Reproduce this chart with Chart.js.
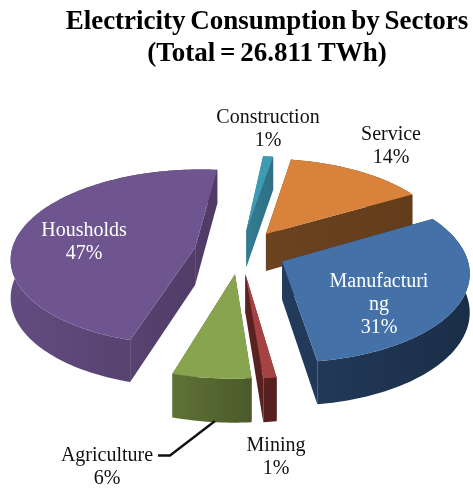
<!DOCTYPE html>
<html>
<head>
<meta charset="utf-8">
<style>
  html, body { margin: 0; padding: 0; background: #fff; }
  #wrap { width: 473px; height: 488px; }
  #sectorChart { filter: blur(0.4px); }
</style>
</head>
<body>
<div id="wrap"><canvas id="sectorChart" width="473" height="488"></canvas></div>
<script src="https://cdn.jsdelivr.net/npm/chart.js@4/dist/chart.umd.min.js"></script>
<script>
const sectors = ["Construction", "Service", "Manufacturing", "Mining", "Agriculture", "Housholds"];
const shares = [1, 14, 31, 1, 6, 47];
const titleLines = ["Electricity Consumption by Sectors", "(Total = 26.811 TWh)"];

const topColors = ["#3f9ab4", "#d9823b", "#4471a8", "#a44342", "#88a44e", "#6f5590"];
const sideLight = ["#347d93", "#6b431f", "#233b5c", "#5c2222", "#5f7236", "#634c80"];
const sideDark = ["#2f6f84", "#633c1b", "#1a2e47", "#561f1f", "#4a5a2b", "#4f3b65"];

// label text as wrapped in the picture, with where it sits
const labels = [
  { lines: ["Construction", "1%"], x: 268, y: 118, color: "#111111" },
  { lines: ["Service", "14%"], x: 391, y: 135, color: "#111111" },
  { lines: ["Manufacturi", "ng", "31%"], x: 379, y: 282, color: "#ffffff" },
  { lines: ["Mining", "1%"], x: 276, y: 446, color: "#111111" },
  { lines: ["Agriculture", "6%"], x: 107, y: 456, color: "#111111" },
  { lines: ["Housholds", "47%"], x: 84, y: 231, color: "#ffffff" },
];

// fake 3D view: the flat pie is tilted and gets bigger towards the viewer
const view = { x: 245, y: 266, shiftX: -5, shiftY: -30, tilt: 0.485, persp: 800, depth: 38.5 };

function project(dx, dy) {
  const w = (dy + view.shiftY) * view.tilt;
  const s = 1 / (1 - w / view.persp);
  return { x: view.x + (dx + view.shiftX) * s, y: view.y + w * s, s };
}

function sliceOutline(arc) {
  const off = arc.options.offset;
  const mid = (arc.startAngle + arc.endAngle) / 2;
  const ox = Math.cos(mid) * off;
  const oy = Math.sin(mid) * off;
  const pts = [project(ox, oy)];
  const steps = Math.max(4, Math.ceil((arc.endAngle - arc.startAngle) * 40));
  for (let i = 0; i <= steps; i++) {
    const a = arc.startAngle + (arc.endAngle - arc.startAngle) * i / steps;
    pts.push(project(ox + Math.cos(a) * arc.outerRadius, oy + Math.sin(a) * arc.outerRadius));
  }
  return pts;
}

// one wall: the run of outline points, and the same run pushed down by the depth
function fillWall(ctx, run) {
  ctx.beginPath();
  run.forEach((p, n) => (n ? ctx.lineTo(p.x, p.y) : ctx.moveTo(p.x, p.y)));
  run.slice().reverse().forEach((p) => ctx.lineTo(p.x, p.y + view.depth * p.s));
  ctx.closePath();
  ctx.fill();
}

const pie3d = {
  id: "pie3d",
  beforeDraw(chart) {
    chart.ctx.wordSpacing = "-2px"; // the title's word gaps are tight
  },
  beforeDatasetDraw(chart) {
    const ctx = chart.ctx;
    ctx.wordSpacing = "0px";
    const arcs = chart.getDatasetMeta(0).data;
    const order = arcs.map((arc, i) => ({ arc, i, pts: sliceOutline(arc) }));
    order.sort((a, b) => {
      const ya = Math.sin((a.arc.startAngle + a.arc.endAngle) / 2);
      const yb = Math.sin((b.arc.startAngle + b.arc.endAngle) / 2);
      return ya - yb;
    });
    order.forEach(({ i, pts }) => {
      const xs = pts.map((p) => p.x);
      const grad = ctx.createLinearGradient(Math.min(...xs), 0, Math.max(...xs), 0);
      grad.addColorStop(0, sideLight[i]);
      grad.addColorStop(1, sideDark[i]);
      ctx.fillStyle = grad;
      fillWall(ctx, pts.slice(1));
      fillWall(ctx, [pts[0], pts[1]]);
      fillWall(ctx, [pts[0], pts[pts.length - 1]]);
      ctx.fillStyle = topColors[i];
      ctx.beginPath();
      pts.forEach((p, n) => (n ? ctx.lineTo(p.x, p.y) : ctx.moveTo(p.x, p.y)));
      ctx.closePath();
      ctx.fill();
    });
    return false;
  },
  afterDraw(chart) {
    const ctx = chart.ctx;
    ctx.save();
    ctx.font = "20px 'Liberation Serif'";
    ctx.textAlign = "center";
    ctx.textBaseline = "middle";
    labels.forEach((l) => {
      ctx.fillStyle = l.color;
      l.lines.forEach((line, n) => ctx.fillText(line, l.x, l.y + n * 23));
    });
    // leader line of the Agriculture label
    ctx.strokeStyle = "#111";
    ctx.lineWidth = 2.4;
    ctx.beginPath();
    ctx.moveTo(158, 455.5);
    ctx.lineTo(170, 455.5);
    ctx.lineTo(215, 421);
    ctx.stroke();
    ctx.restore();
  },
};

new Chart(document.getElementById("sectorChart"), {
  type: "pie",
  data: {
    labels: sectors,
    datasets: [{ data: shares, backgroundColor: topColors, offset: 47, borderWidth: 0 }],
  },
  options: {
    responsive: false,
    animation: false,
    rotation: 6,
    radius: 187,
    layout: { padding: { left: 61 } },
    plugins: {
      legend: { display: false },
      tooltip: { enabled: false },
      title: {
        display: true,
        text: titleLines,
        color: "#000",
        font: { family: "'Liberation Serif'", size: 27, weight: "bold", lineHeight: 1.19 },
        padding: { top: 6, bottom: 0 },
      },
    },
  },
  plugins: [pie3d],
});
</script>
</body>
</html>
